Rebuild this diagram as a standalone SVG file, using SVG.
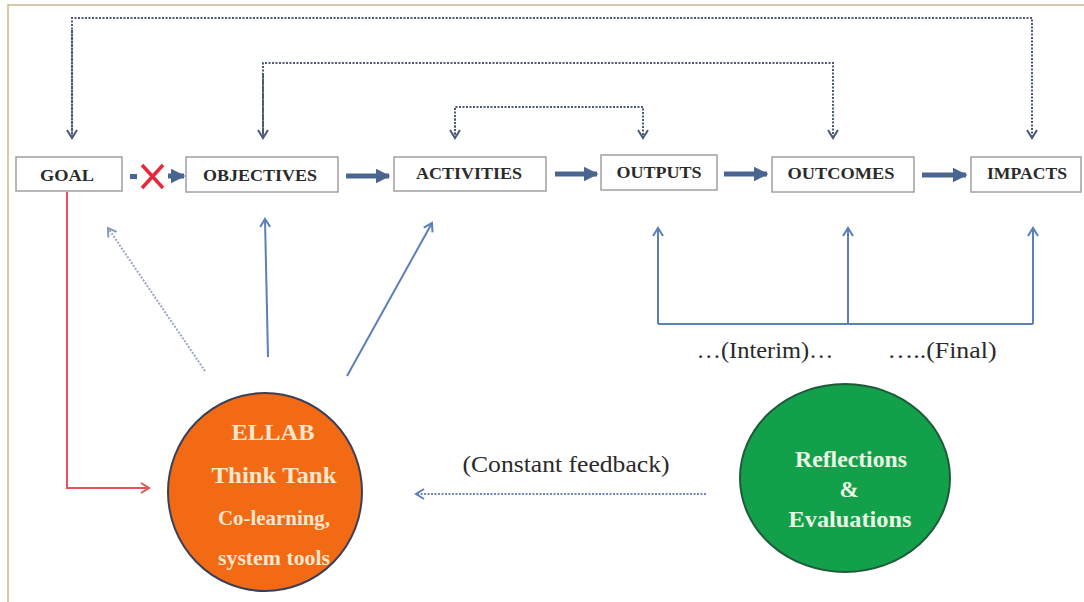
<svg xmlns="http://www.w3.org/2000/svg" width="1084" height="602" viewBox="0 0 1084 602">
<style>
.box{fill:#fff;stroke:#a0a0a0;stroke-width:1.5}
.bt{font-family:"Liberation Serif","Times New Roman",serif;font-weight:bold;font-size:17px;fill:#2a2a2a;text-anchor:middle}
.thick{stroke:#4a6690;stroke-width:5;fill:none}
.dot{stroke:#4b5a78;stroke-width:2;stroke-dasharray:2 1.5;fill:none}
.blue{stroke:#5b80b8;stroke-width:2;fill:none}
.lbl{font-family:"Liberation Serif","Times New Roman",serif;font-size:23px;fill:#2a2a2a;text-anchor:middle}
.ct{font-family:"Liberation Serif","Times New Roman",serif;font-weight:bold;text-anchor:middle}
</style>
<defs>
<marker id="tri" viewBox="0 0 10 10" refX="9" refY="5" markerWidth="3" markerHeight="3" orient="auto"><path d="M0,0 L10,5 L0,10 Z" fill="#4a6690"/></marker>
<marker id="chevD" viewBox="0 0 12 12" refX="10" refY="6" markerUnits="userSpaceOnUse" markerWidth="12" markerHeight="12" orient="auto"><path d="M2,1 L10,6 L2,11" fill="none" stroke="#4b5a78" stroke-width="2"/></marker>
<marker id="chevB" viewBox="0 0 12 12" refX="10" refY="6" markerUnits="userSpaceOnUse" markerWidth="12" markerHeight="12" orient="auto"><path d="M2,1 L10,6 L2,11" fill="none" stroke="#5b80b8" stroke-width="2"/></marker>
<marker id="chevG" viewBox="0 0 12 12" refX="10" refY="6" markerUnits="userSpaceOnUse" markerWidth="12" markerHeight="12" orient="auto"><path d="M2,1 L10,6 L2,11" fill="none" stroke="#8898b8" stroke-width="2"/></marker>
<marker id="chevR" viewBox="0 0 12 12" refX="10" refY="6" markerUnits="userSpaceOnUse" markerWidth="12" markerHeight="12" orient="auto"><path d="M2,1 L10,6 L2,11" fill="none" stroke="#e8505a" stroke-width="2"/></marker>
</defs>
<rect x="0" y="0" width="1084" height="602" fill="#fff"/>
<rect x="8" y="5" width="1100" height="640" fill="none" stroke="#c8b88a" stroke-width="1.5"/>

<g id="connectors">
<path class="dot" d="M72,138 V18 H1032 V138" marker-end="url(#chevD)"/>
<path class="dot" d="M72,30 V138" marker-end="url(#chevD)"/>
<path class="dot" d="M263,138 V63 H833 V138" marker-end="url(#chevD)"/>
<path class="dot" d="M263,75 V138" marker-end="url(#chevD)"/>
<path class="dot" d="M455,138 V107 H643 V138" marker-end="url(#chevD)"/>
<path class="dot" d="M455,115 V138" marker-end="url(#chevD)"/>
<rect x="130" y="174" width="7" height="5" fill="#4a6690"/>
<path class="thick" d="M168,176 H184" marker-end="url(#tri)"/>
<path d="M142,165 L163,188 M163,165 L142,188" stroke="#e8283a" stroke-width="3.5" fill="none"/>
<path class="thick" d="M346,176 H389" marker-end="url(#tri)"/>
<path class="thick" d="M555,174 H597" marker-end="url(#tri)"/>
<path class="thick" d="M724,174 H767" marker-end="url(#tri)"/>
<path class="thick" d="M922,175 H966" marker-end="url(#tri)"/>
<path class="blue" d="M658,324 H1033 M848,324 V228" marker-end="url(#chevB)"/>
<path class="blue" d="M658,324 V228" marker-end="url(#chevB)"/>
<path class="blue" d="M1033,324 V228" marker-end="url(#chevB)"/>
<path d="M205,371 L108,228" stroke="#9aa6c0" stroke-width="2" stroke-dasharray="2 1.5" fill="none" marker-end="url(#chevG)"/>
<path class="blue" d="M268,357 L265,219" marker-end="url(#chevB)"/>
<path class="blue" d="M347,376 L432,223" marker-end="url(#chevB)"/>
<path d="M67,192 V488 H149" stroke="#e8505a" stroke-width="2" fill="none" marker-end="url(#chevR)"/>
<path d="M706,494 H416" stroke="#6f88b5" stroke-width="2" stroke-dasharray="2 1.5" fill="none" marker-end="url(#chevB)"/>
</g>

<g id="goal"><rect class="box" x="16" y="157" width="106" height="34"/><text class="bt" x="67" y="181" textLength="54" lengthAdjust="spacingAndGlyphs">GOAL</text></g>
<g id="objectives"><rect class="box" x="186" y="157" width="152" height="35"/><text class="bt" x="260" y="181" textLength="114" lengthAdjust="spacingAndGlyphs">OBJECTIVES</text></g>
<g id="activities"><rect class="box" x="394" y="157" width="152" height="34"/><text class="bt" x="469" y="179" textLength="106" lengthAdjust="spacingAndGlyphs">ACTIVITIES</text></g>
<g id="outputs"><rect class="box" x="601" y="155" width="116" height="35"/><text class="bt" x="659" y="178" textLength="85" lengthAdjust="spacingAndGlyphs">OUTPUTS</text></g>
<g id="outcomes"><rect class="box" x="772" y="157" width="142" height="35"/><text class="bt" x="841" y="179" textLength="107" lengthAdjust="spacingAndGlyphs">OUTCOMES</text></g>
<g id="impacts"><rect class="box" x="971" y="157" width="110" height="35"/><text class="bt" x="1027" y="179" textLength="80" lengthAdjust="spacingAndGlyphs">IMPACTS</text></g>

<g id="labels">
<text class="lbl" x="765" y="358" textLength="137" lengthAdjust="spacingAndGlyphs">…(Interim)…</text>
<text class="lbl" x="942" y="358" textLength="109" lengthAdjust="spacingAndGlyphs">…..(Final)</text>
<text class="lbl" x="566" y="472" textLength="207" lengthAdjust="spacingAndGlyphs">(Constant feedback)</text>
</g>

<g id="ellab">
<ellipse cx="265" cy="492" rx="97" ry="99" fill="#f26a14" stroke="#3a3f5a" stroke-width="2"/>
<text class="ct" x="273" y="440" font-size="23" fill="#fbe6cc" textLength="83" lengthAdjust="spacingAndGlyphs">ELLAB</text>
<text class="ct" x="274" y="483" font-size="24" fill="#fbe6cc" textLength="125" lengthAdjust="spacingAndGlyphs">Think Tank</text>
<text class="ct" x="274" y="525" font-size="20" fill="#fbe6cc" textLength="112" lengthAdjust="spacingAndGlyphs">Co-learning,</text>
<text class="ct" x="274" y="565" font-size="20" fill="#fbe6cc" textLength="112" lengthAdjust="spacingAndGlyphs">system tools</text>
</g>

<g id="reflections">
<ellipse cx="845" cy="478" rx="105" ry="94" fill="#12a04a" stroke="#1e5a3a" stroke-width="2"/>
<text class="ct" x="851" y="467" font-size="23" fill="#eaf6e4" textLength="112" lengthAdjust="spacingAndGlyphs">Reflections</text>
<text class="ct" x="849" y="497" font-size="23" fill="#eaf6e4">&amp;</text>
<text class="ct" x="850" y="527" font-size="23" fill="#eaf6e4" textLength="123" lengthAdjust="spacingAndGlyphs">Evaluations</text>
</g>
</svg>
